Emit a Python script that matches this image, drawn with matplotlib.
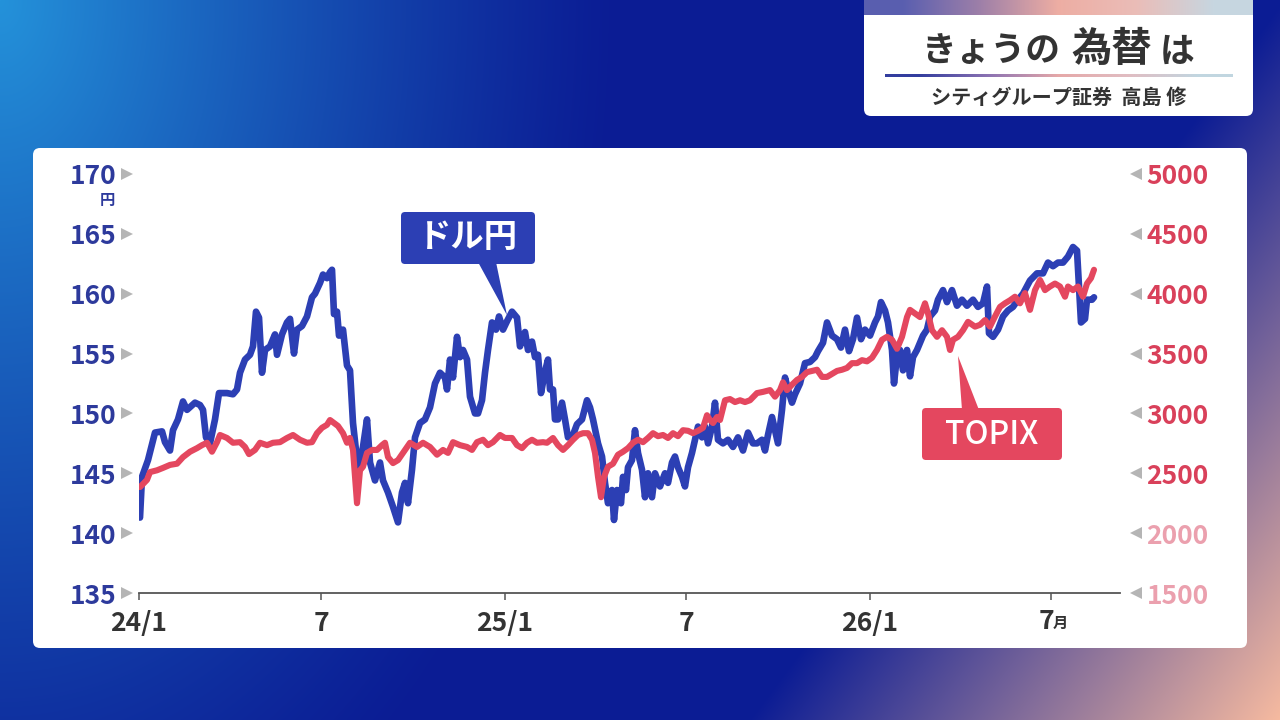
import datetime as dt
import numpy as np
import matplotlib
matplotlib.use("Agg")
import matplotlib.pyplot as plt
import matplotlib.dates as mdates
import matplotlib.transforms as mtrans
from matplotlib.patches import FancyBboxPatch, Polygon

plt.rcParams['font.family'] = ['Noto Sans CJK JP', 'DejaVu Sans']

START = dt.date(2024, 1, 1)

# ドル円 (days since 2024-01-01, yen)
usd_day = [1, 3, 9, 16, 23, 26, 31, 34, 39, 44, 48, 56, 61, 64, 67, 71, 76, 80, 88, 94,
           98, 101, 106, 111, 114, 117, 120, 123, 126, 131, 136, 138, 143, 148, 151, 155, 158, 163, 168, 173,
           176, 181, 184, 188, 191, 193, 195, 198, 200, 204, 208, 211, 214, 217, 220, 224, 228, 231, 236, 241,
           244, 249, 254, 259, 263, 266, 269, 273, 276, 281, 286, 291, 296, 301, 306, 308, 311, 314, 318, 321,
           324, 328, 331, 336, 339, 343, 346, 349, 353, 357, 360, 364, 368, 373, 378, 381, 386, 389, 393, 396,
           399, 402, 406, 409, 411, 414, 416, 419, 423, 426, 429, 434, 438, 443, 448, 451, 454, 459, 463, 466,
           469, 473, 475, 478, 482, 484, 487, 489, 493, 496, 499, 503, 506, 509, 513, 516, 521, 526, 529, 533,
           536, 539, 543, 546, 549, 553, 556, 559, 563, 566, 569, 573, 576, 579, 584, 589, 594, 599, 604, 609,
           614, 618, 623, 626, 629, 633, 636, 639, 643, 646, 649, 653, 656, 661, 666, 671, 676, 679, 684, 688,
           693, 698, 702, 706, 710, 714, 718, 722, 726, 731, 736, 739, 742, 746, 749, 753, 755, 758, 761, 764,
           768, 771, 774, 778, 781, 784, 788, 791, 796, 799, 804, 808, 813, 818, 823, 828, 834, 839, 844, 848,
           850, 854, 859, 864, 869, 874, 879, 884, 891, 898, 904, 909, 914, 919, 924, 929, 934, 938, 940, 942,
           946, 948, 953, 955]
usd_val = [141.3, 144.7, 146.1, 148.4, 148.5, 147.6, 146.9, 148.6, 149.5, 151.0, 150.3, 150.9, 150.7, 150.3, 148.0, 147.5, 149.5, 151.7, 151.7, 151.6,
           152.0, 153.4, 154.5, 154.9, 155.6, 158.5, 158.0, 153.4, 155.3, 155.6, 156.6, 154.9, 156.6, 157.6, 157.9, 155.0, 157.0, 157.3, 158.1, 159.7,
           160.0, 160.9, 161.6, 161.3, 161.8, 162.0, 158.3, 158.5, 156.5, 157.0, 154.0, 153.6, 149.2, 146.9, 145.5, 147.2, 149.5, 145.9, 144.4, 145.9,
           144.4, 143.4, 142.2, 140.9, 143.4, 144.2, 142.5, 145.3, 148.0, 149.2, 149.5, 150.5, 152.5, 153.4, 153.0, 152.0, 154.5, 153.0, 156.4, 154.7,
           155.3, 154.5, 151.4, 150.0, 150.0, 151.1, 153.4, 155.3, 157.6, 157.0, 158.1, 157.0, 157.7, 158.5, 158.0, 155.6, 156.8, 155.3, 156.0, 154.7,
           154.9, 151.7, 153.5, 154.5, 152.0, 152.0, 149.5, 149.5, 150.9, 149.5, 148.0, 148.2, 149.1, 149.5, 151.1, 150.5, 149.5, 147.5, 146.4, 144.2,
           142.5, 143.6, 141.1, 143.6, 142.5, 144.7, 143.6, 145.5, 146.1, 148.6, 146.7, 145.3, 143.0, 145.0, 143.0, 145.0, 143.9, 145.0, 144.2, 145.9,
           146.4, 145.5, 144.7, 143.9, 145.5, 146.7, 147.8, 148.9, 148.0, 148.9, 147.5, 148.9, 150.9, 147.8, 147.5, 147.8, 147.2, 148.0, 146.9, 148.4,
           147.5, 147.5, 147.8, 146.9, 148.2, 149.7, 148.6, 147.5, 150.3, 153.0, 152.0, 150.9, 151.6, 152.5, 154.2, 154.3, 154.7, 155.2, 155.9, 157.6,
           156.5, 156.2, 155.5, 157.0, 155.2, 156.2, 158.0, 156.2, 157.0, 156.5, 157.6, 158.1, 159.3, 158.6, 157.6, 155.3, 152.5, 154.8, 155.3, 153.6,
           155.3, 153.1, 154.7, 155.3, 155.9, 156.5, 157.0, 158.1, 158.6, 159.5, 160.3, 159.3, 160.3, 159.0, 159.5, 159.0, 159.5, 158.9, 159.2, 160.6,
           156.7, 156.4, 157.0, 158.1, 158.6, 158.9, 159.5, 160.0, 161.1, 161.7, 161.7, 162.6, 162.3, 162.6, 162.6, 163.1, 163.9, 163.6, 160.6, 157.6,
           157.9, 159.5, 159.5, 159.7]

# TOPIX (days since 2024-01-01, points)
topix_day = [1, 8, 11, 18, 24, 31, 38, 44, 51, 58, 63, 68, 73, 78, 81, 88, 94, 101, 106, 110,
             116, 121, 128, 134, 141, 148, 154, 161, 168, 173, 178, 183, 188, 191, 195, 199, 204, 208, 211, 214,
             218, 221, 224, 228, 233, 238, 243, 246, 249, 254, 259, 264, 271, 278, 284, 291, 298, 304, 309, 314,
             321, 328, 333, 338, 344, 349, 354, 361, 366, 373, 378, 383, 388, 393, 398, 404, 408, 414, 419, 424,
             429, 434, 439, 444, 449, 453, 456, 459, 462, 465, 469, 474, 479, 484, 489, 494, 499, 504, 509, 514,
             519, 524, 529, 534, 539, 544, 549, 554, 559, 564, 568, 571, 574, 578, 581, 586, 591, 596, 601, 606,
             611, 618, 624, 631, 636, 641, 644, 648, 653, 658, 663, 668, 673, 678, 683, 688, 693, 698, 703, 708,
             713, 718, 723, 728, 733, 738, 743, 748, 753, 758, 763, 768, 771, 776, 781, 786, 789, 793, 798, 803,
             808, 811, 814, 819, 824, 829, 836, 841, 846, 851, 856, 861, 866, 871, 876, 881, 886, 891, 896, 901,
             906, 911, 916, 921, 926, 929, 934, 939, 944, 948, 952, 955]
topix_val = [2385, 2445, 2510, 2525, 2545, 2570, 2580, 2635, 2680, 2710, 2735, 2755, 2680, 2760, 2820, 2795, 2755, 2760, 2720, 2660,
             2695, 2755, 2735, 2755, 2760, 2795, 2820, 2780, 2755, 2760, 2835, 2880, 2905, 2945, 2920, 2895, 2835, 2755, 2795, 2695,
             2250, 2525, 2555, 2670, 2695, 2695, 2735, 2755, 2635, 2585, 2610, 2670, 2755, 2720, 2755, 2720, 2655, 2695, 2670, 2760,
             2735, 2720, 2695, 2760, 2780, 2735, 2760, 2820, 2795, 2795, 2735, 2710, 2755, 2780, 2755, 2760, 2755, 2795, 2735, 2695,
             2735, 2780, 2820, 2835, 2835, 2780, 2670, 2470, 2300, 2470, 2555, 2580, 2655, 2680, 2710, 2755, 2780, 2760, 2795, 2835,
             2810, 2820, 2795, 2835, 2810, 2860, 2855, 2835, 2855, 2880, 2985, 2945, 2920, 2970, 2945, 3110, 3120, 3095, 3110, 3095,
             3110, 3170, 3180, 3195, 3140, 3195, 3260, 3195, 3240, 3280, 3305, 3345, 3355, 3365, 3305, 3305, 3330, 3355, 3365, 3380,
             3420, 3420, 3445, 3435, 3465, 3530, 3615, 3640, 3615, 3540, 3640, 3805, 3865, 3835, 3805, 3920, 3835, 3695, 3640, 3695,
             3640, 3530, 3615, 3640, 3695, 3765, 3725, 3740, 3780, 3725, 3810, 3890, 3920, 3945, 3975, 3920, 4005, 3865, 4030, 4115,
             4030, 4060, 4085, 4060, 3975, 4060, 4030, 4060, 3975, 4085, 4130, 4200]

usd_ticks = [135, 140, 145, 150, 155, 160, 165, 170]
topix_ticks = [1500, 2000, 2500, 3000, 3500, 4000, 4500, 5000]
x_ticks = [dt.date(2024, 1, 1), dt.date(2024, 7, 1), dt.date(2025, 1, 1),
           dt.date(2025, 7, 1), dt.date(2026, 1, 1), dt.date(2026, 7, 1)]
x_labels = ["24/1", "7", "25/1", "7", "26/1", ""]

BLUE = '#2c3fb4'
RED = '#e4475f'
BLUE_TXT = '#2d3a9c'
RED_TXT = '#d9405a'
RED_PALE = '#eba0ae'
DARK = '#333333'

W, H = 1280, 720
fig = plt.figure(figsize=(12.8, 7.2), dpi=100)

# ---- background gradient
bg = fig.add_axes([0, 0, 1, 1])
yy, xx = np.mgrid[0:H, 0:W].astype(float)
navy = np.array([11, 28, 148]) / 255
light = np.array([36, 146, 218]) / 255
salmon = np.array([246, 186, 160]) / 255
w1 = np.clip(1 - np.sqrt((xx / 620) ** 2 + (yy / 950) ** 2), 0, 1) ** 1.2
w2 = np.clip(xx / 530 + yy / 714 - 2.42, 0, 1)
img = navy[None, None, :] * np.ones((H, W, 1))
img = img * (1 - w1[..., None]) + light * w1[..., None]
img = img * (1 - w2[..., None]) + salmon * w2[..., None]
bg.imshow(img, extent=[0, W, H, 0], aspect='auto', interpolation='bilinear', zorder=0)

# white chart panel
bg.add_patch(FancyBboxPatch((33, 148), 1214, 500, boxstyle="round,pad=0,rounding_size=7",
                            fc='white', ec='none', zorder=1))
# title box
bg.add_patch(FancyBboxPatch((864, -20), 389, 136, boxstyle="round,pad=0,rounding_size=7",
                            fc='white', ec='none', zorder=1))
strip = np.array([[0.35, 0.37, 0.69], [0.62, 0.50, 0.66], [0.93, 0.68, 0.64], [0.92, 0.74, 0.72], [0.78, 0.84, 0.88]])
bg.imshow(strip[None, :, :], extent=[864, 1253, 15, 0], aspect='auto', interpolation='bilinear', zorder=2)
uline = np.array([[0.20, 0.24, 0.62], [0.55, 0.45, 0.70], [0.90, 0.66, 0.66], [0.88, 0.74, 0.76], [0.76, 0.84, 0.88]])
bg.imshow(uline[None, :, :], extent=[885, 1233, 77.5, 74.5], aspect='auto', interpolation='bilinear', zorder=2)
bg.set_xlim(0, W)
bg.set_ylim(H, 0)
bg.axis('off')

bg.text(922, 51, "きょうの", fontsize=25, fontweight='bold', color=DARK, ha='left', va='center', zorder=3)
bg.text(1071, 49, "為替", fontsize=29, fontweight='bold', color=DARK, ha='left', va='center', zorder=3)
bg.text(1160, 51, "は", fontsize=25, fontweight='bold', color=DARK, ha='left', va='center', zorder=3)
bg.text(1059, 97, "シティグループ証券  高島 修", fontsize=14.5, fontweight='bold', color=DARK,
        ha='center', va='center', zorder=3)

# ---- chart axes
ax = fig.add_axes([139 / W, (H - 593) / H, 981 / W, 419 / H])
ax.patch.set_alpha(0)
ax2 = ax.twinx()

usd_dates = [START + dt.timedelta(days=d) for d in usd_day]
topix_dates = [START + dt.timedelta(days=d) for d in topix_day]
ax.plot(usd_dates, usd_val, color=BLUE, lw=4.8, solid_joinstyle='round', solid_capstyle='round')
ax2.plot(topix_dates, topix_val, color=RED, lw=4.4, solid_joinstyle='round', solid_capstyle='round')

ax.set_xlim(START, START + dt.timedelta(days=981))
ax.set_ylim(135, 170)
ax2.set_ylim(1500, 5000)

for a in (ax, ax2):
    for s in ('left', 'right', 'top'):
        a.spines[s].set_visible(False)
ax2.spines['bottom'].set_visible(False)
ax.spines['bottom'].set_color('#555555')
ax.spines['bottom'].set_linewidth(1.3)

ax.set_xticks(x_ticks)
ax.set_xticklabels(x_labels)
ax.tick_params(axis='x', length=5, width=1.1, color='#555555', pad=7, labelsize=19, labelcolor=DARK)
for lab in ax.get_xticklabels():
    lab.set_fontweight('bold')
ax.annotate("7", xy=(x_ticks[-1], 0), xycoords=('data', 'axes fraction'), xytext=(2, -10.5),
            textcoords='offset points', ha='right', va='top', fontsize=19, fontweight='bold', color=DARK)
ax.annotate("月", xy=(x_ticks[-1], 0), xycoords=('data', 'axes fraction'), xytext=(1.5, -16),
            textcoords='offset points', ha='left', va='top', fontsize=11, fontweight='bold', color=DARK)

ax.set_yticks(usd_ticks)
ax.tick_params(axis='y', length=0, pad=16, labelsize=19, labelcolor=BLUE_TXT)
for lab in ax.get_yticklabels():
    lab.set_fontweight('bold')
ax2.set_yticks(topix_ticks)
ax2.tick_params(axis='y', length=0, pad=19, labelsize=19, labelcolor=RED_TXT)
for lab, v in zip(ax2.get_yticklabels(), topix_ticks):
    lab.set_fontweight('bold')
    if v <= 2000:
        lab.set_color(RED_PALE)

tl = mtrans.blended_transform_factory(ax.transAxes, ax.transData)
ax.plot([-12 / 981] * len(usd_ticks), usd_ticks, ls='none', marker='>', ms=8, mew=0,
        color='#b5b5b5', transform=tl, clip_on=False)
tr = mtrans.blended_transform_factory(ax2.transAxes, ax2.transData)
ax2.plot([1 + 16 / 981] * len(topix_ticks), topix_ticks, ls='none', marker='<', ms=8, mew=0,
         color='#b5b5b5', transform=tr, clip_on=False)
ax.annotate("円", xy=(0, 170), xycoords=('axes fraction', 'data'), xytext=(-23, -18.5),
            textcoords='offset points', ha='center', va='center', fontsize=11, fontweight='bold',
            color=BLUE_TXT)

# ---- callouts
ov = fig.add_axes([0, 0, 1, 1], zorder=10)
ov.set_xlim(0, W)
ov.set_ylim(H, 0)
ov.axis('off')
ov.patch.set_alpha(0)


def to_px(axis, date, val):
    x, y = axis.transData.transform((mdates.date2num(date), val))
    return x, H - y


tip = to_px(ax, START + dt.timedelta(days=368), 158.2)
ov.add_patch(Polygon([(478, 262), (496, 262), tip], closed=True, fc=BLUE, ec='none'))
ov.add_patch(FancyBboxPatch((401, 212), 134, 52, boxstyle="round,pad=0,rounding_size=4",
                            fc=BLUE, ec='none'))
ov.text(468, 238, "ドル円", fontsize=24, fontweight='bold', color='white', ha='center', va='center')

tip = to_px(ax2, START + dt.timedelta(days=819), 3480)
ov.add_patch(Polygon([(962, 410), (979, 410), tip], closed=True, fc=RED, ec='none'))
ov.add_patch(FancyBboxPatch((922, 408), 140, 52, boxstyle="round,pad=0,rounding_size=4",
                            fc=RED, ec='none'))
ov.text(992, 435, "TOPIX", fontsize=23, fontweight='medium', color='white', ha='center', va='center')

fig.savefig("out.png", dpi=100)
